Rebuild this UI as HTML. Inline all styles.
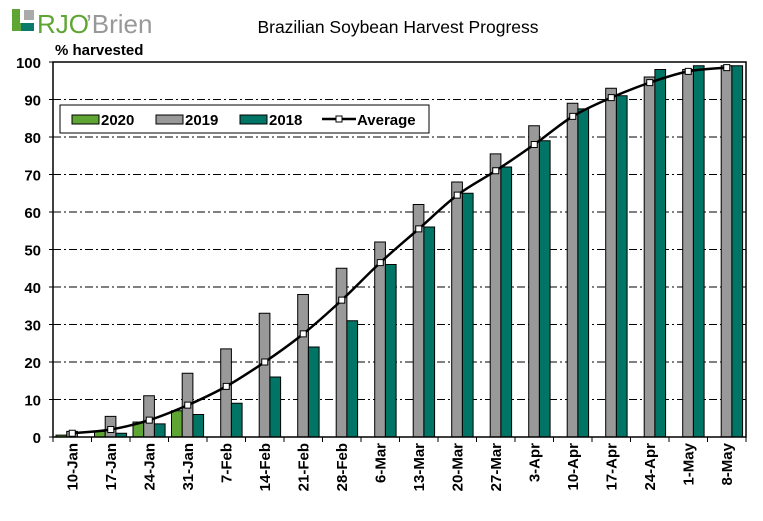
<!DOCTYPE html>
<html><head><meta charset="utf-8"><style>
body{margin:0;background:#fff}
svg text{font-family:"Liberation Sans",Arial,sans-serif}
</style></head><body>
<svg id="chart" width="763" height="516" viewBox="0 0 763 516">
<g>
<rect x="12" y="9" width="22" height="22" fill="#5fa533"/>
<rect x="20" y="9" width="14" height="14" fill="#fff"/>
<rect x="24" y="10" width="10" height="10" fill="#aaa"/>
<rect x="21" y="23" width="13" height="8" fill="#0a7a6a"/>
<text x="37" y="33" font-size="26" fill="#5fa533" font-family="Liberation Serif,serif">RJO</text>
<text x="86" y="33" font-size="26" fill="#999" font-family="Liberation Serif,serif">’Brien</text>
</g>
<text x="398" y="33" font-size="17.5" text-anchor="middle">Brazilian Soybean Harvest Progress</text>
<text x="55" y="55" font-size="15" font-weight="bold">% harvested</text>
<g id="grid"></g><g id="bars"></g><g id="line"></g><g id="axes"></g>
<g>
<rect x="60" y="105" width="369" height="28" fill="#fff" stroke="#000" stroke-width="1"/>
<rect x="72" y="115" width="27" height="9" fill="#5fa533" stroke="#000"/>
<text x="101" y="125" font-size="15" font-weight="bold">2020</text>
<rect x="156" y="115" width="27" height="9" fill="#999" stroke="#000"/>
<text x="185" y="125" font-size="15" font-weight="bold">2019</text>
<rect x="240" y="115" width="27" height="9" fill="#007565" stroke="#000"/>
<text x="269" y="125" font-size="15" font-weight="bold">2018</text>
<line x1="322" y1="119" x2="356" y2="119" stroke="#000" stroke-width="2.5"/>
<rect x="336" y="116" width="6" height="6" fill="#fff" stroke="#000"/>
<text x="357" y="125" font-size="15" font-weight="bold">Average</text>
</g>
</svg>
<script>
const categories=["10-Jan","17-Jan","24-Jan","31-Jan","7-Feb","14-Feb","21-Feb","28-Feb","6-Mar","13-Mar","20-Mar","27-Mar","3-Apr","10-Apr","17-Apr","24-Apr","1-May","8-May"];
const s2020=[0.5,1.5,4,7,null,null,null,null,null,null,null,null,null,null,null,null,null,null];
const s2019=[1.5,5.5,11,17,23.5,33,38,45,52,62,68,75.5,83,89,93,96,98,99];
const s2018=[0,1,3.5,6,9,16,24,31,46,56,65,72,79,87.5,91,98,99,99];
const avg=[1,2,4.5,8.5,13.5,20,27.5,36.5,46.5,55.5,64.5,71,78,85.5,90.5,94.5,97.5,98.5];
const yTicks=[0,10,20,30,40,50,60,70,80,90,100];
const NS="http://www.w3.org/2000/svg";
const L=53,R=746,T=62,B=437;
const bw=(R-L)/categories.length;
const y=v=>B-(B-T)*v/100;
const x=i=>L+bw*i;
function mk(tag,attrs,parent){const e=document.createElementNS(NS,tag);for(const k in attrs)e.setAttribute(k,attrs[k]);document.getElementById(parent).appendChild(e);return e;}
mk("rect",{x:L,y:T,width:R-L,height:B-T,fill:"#fff",stroke:"none"},"grid");
yTicks.forEach(t=>{
 if(t>0&&t<100){const g=mk("line",{x1:L,x2:R,y1:y(t),y2:y(t),stroke:"#000","stroke-width":1,"stroke-dasharray":"8,3,2,3"},"grid");
 
 }
 const tx=mk("text",{x:41,y:y(t)+6,"font-size":15,"font-weight":"bold","text-anchor":"end"},"axes");tx.textContent=t;
 
 
 mk("line",{x1:L-4,x2:L,y1:y(t),y2:y(t),stroke:"#000"},"axes");
});
const series=[[s2020,"#5fa533","2020"],[s2019,"#999","2019"],[s2018,"#007565","2018"]];
categories.forEach((c,i)=>{
 series.forEach(([arr,col,nm],k)=>{
  const v=arr[i]; if(v==null)return;
  const r=mk("rect",{x:x(i)+3+k*10.7,y:y(v),width:10.7,height:B-y(v),fill:col,stroke:"#000","stroke-width":1},"bars");
  
  
 });
 mk("line",{x1:x(i),x2:x(i),y1:B,y2:B+5,stroke:"#000"},"axes");
 const cx=x(i)+bw/2;
 const t=mk("text",{x:0,y:0,"font-size":15,"font-weight":"bold","text-anchor":"end",transform:`translate(${cx+5},${B+6}) rotate(-90)`},"axes");
 t.textContent=c;
 
 
});
mk("line",{x1:R,x2:R,y1:B,y2:B+5,stroke:"#000"},"axes");
mk("rect",{x:L,y:T,width:R-L,height:B-T,fill:"none",stroke:"#000","stroke-width":1.5},"axes");
const pts=avg.map((v,i)=>[x(i)+bw/2,y(v)]);
let d=`M${pts[0][0]},${pts[0][1]}`;
for(let i=0;i<pts.length-1;i++){
 const p0=pts[Math.max(0,i-1)],p1=pts[i],p2=pts[i+1],p3=pts[Math.min(pts.length-1,i+2)];
 const c1=[p1[0]+(p2[0]-p0[0])/6,p1[1]+(p2[1]-p0[1])/6],c2=[p2[0]-(p3[0]-p1[0])/6,p2[1]-(p3[1]-p1[1])/6];
 d+=` C${c1[0]},${c1[1]} ${c2[0]},${c2[1]} ${p2[0]},${p2[1]}`;
}
const ln=mk("path",{d:d,fill:"none",stroke:"#000","stroke-width":2.5},"line");


pts.forEach((p,i)=>{
 const m=mk("rect",{x:p[0]-3,y:p[1]-3,width:6,height:6,fill:"#fff",stroke:"#000","stroke-width":1},"line");
 
 
});
</script>
</body></html>
